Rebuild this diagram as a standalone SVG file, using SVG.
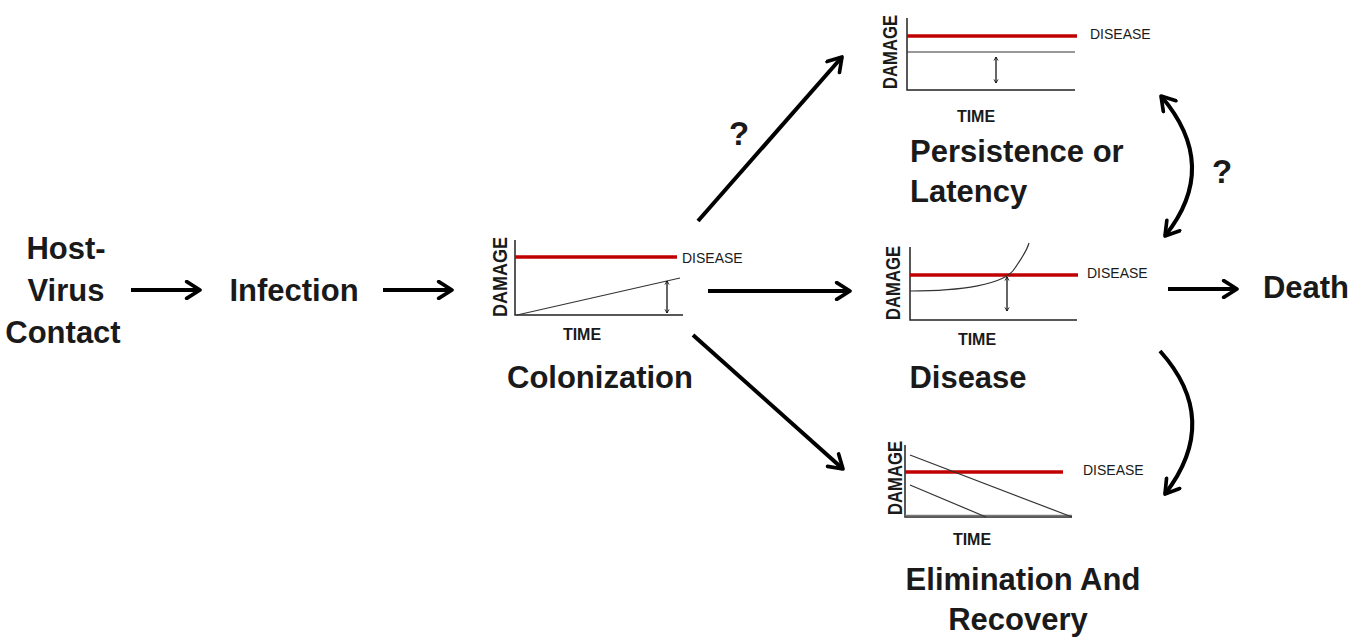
<svg xmlns="http://www.w3.org/2000/svg" width="1351" height="639" viewBox="0 0 1351 639">
<style>
.lbl{font-family:"Liberation Sans",Arial,sans-serif;font-weight:bold;font-size:31px;fill:#1a1a1a}
.q{font-family:"Liberation Sans",Arial,sans-serif;font-weight:bold;font-size:33px;fill:#1a1a1a}
.ax{font-family:"Liberation Sans",Arial,sans-serif;font-weight:bold;font-size:16px;fill:#1a1a1a}
.dm{font-family:"Liberation Sans",Arial,sans-serif;font-weight:bold;font-size:20px;fill:#1a1a1a}
.dis{font-family:"Liberation Sans",Arial,sans-serif;font-size:14px;fill:#1a1a1a}
.axis{stroke:#222;stroke-width:1.5;fill:none}
.red{stroke:#c00000;stroke-width:3.5;fill:none}
.thin{stroke:#333;stroke-width:1.2;fill:none}
.conn{stroke:#000;stroke-width:4;fill:none;marker-end:url(#ah)}
.dbl{stroke:#000;stroke-width:1.2;fill:none;marker-start:url(#sa);marker-end:url(#sa)}
</style>
<defs>
<marker id="ah" viewBox="0 0 12 12" refX="10" refY="6" markerWidth="5" markerHeight="5" orient="auto-start-reverse" markerUnits="strokeWidth">
<polyline points="2,1 10,6 2,11" fill="none" stroke="#000" stroke-width="2.2" stroke-linecap="round" stroke-linejoin="round"/>
</marker>
<marker id="sa" viewBox="0 0 10 10" refX="9" refY="5" markerWidth="6" markerHeight="6" orient="auto-start-reverse" markerUnits="userSpaceOnUse">
<polyline points="3,1.5 9,5 3,8.5" fill="none" stroke="#000" stroke-width="1.3"/>
</marker>
</defs>
<rect width="1351" height="639" fill="#fff"/>

<g id="host">
<text class="lbl" x="66" y="259" text-anchor="middle">Host-</text>
<text class="lbl" x="66" y="301" text-anchor="middle">Virus</text>
<text class="lbl" x="63" y="343" text-anchor="middle">Contact</text>
</g>
<g id="infection">
<text class="lbl" x="294" y="301" text-anchor="middle">Infection</text>
</g>
<g id="colonization">
<path class="axis" d="M515,240 V315 H683"/>
<line class="red" x1="515" y1="257" x2="677" y2="257"/>
<line class="thin" x1="517" y1="315" x2="680" y2="278"/>
<line class="dbl" x1="667" y1="281" x2="667" y2="313"/>
<text class="dis" x="682" y="263">DISEASE</text>
<text class="ax" x="582" y="340" text-anchor="middle">TIME</text>
<text class="dm" transform="translate(507,277) rotate(-90)" text-anchor="middle" textLength="80" lengthAdjust="spacingAndGlyphs">DAMAGE</text>
<text class="lbl" x="600" y="388" text-anchor="middle">Colonization</text>
</g>
<g id="persistence">
<path class="axis" d="M907,18 V90 H1075"/>
<line class="red" x1="907" y1="36" x2="1077" y2="36"/>
<line class="thin" x1="907" y1="52" x2="1075" y2="52"/>
<line class="dbl" x1="996" y1="57" x2="996" y2="83"/>
<text class="dis" x="1090" y="39">DISEASE</text>
<text class="ax" x="976" y="122" text-anchor="middle">TIME</text>
<text class="dm" transform="translate(897,52) rotate(-90)" text-anchor="middle" textLength="74" lengthAdjust="spacingAndGlyphs">DAMAGE</text>
<text class="lbl" x="910" y="162">Persistence or</text>
<text class="lbl" x="910" y="202">Latency</text>
</g>
<g id="disease">
<path class="axis" d="M910,247 V320 H1077"/>
<line class="red" x1="910" y1="275" x2="1078" y2="275"/>
<path class="thin" d="M910,291 C960,291 1005,285 1015,268 C1022,258 1027,250 1029,243"/>
<line class="dbl" x1="1007" y1="277" x2="1007" y2="311"/>
<text class="dis" x="1087" y="278">DISEASE</text>
<text class="ax" x="977" y="345" text-anchor="middle">TIME</text>
<text class="dm" transform="translate(900,283) rotate(-90)" text-anchor="middle" textLength="74" lengthAdjust="spacingAndGlyphs">DAMAGE</text>
<text class="lbl" x="968" y="388" text-anchor="middle">Disease</text>
</g>
<g id="elimination">
<path class="axis" d="M905,445 V517 H1072"/>
<line x1="905" y1="515.5" x2="1072" y2="515.5" stroke="#777" stroke-width="1.5"/>
<line class="red" x1="905" y1="472" x2="1063" y2="472"/>
<line class="thin" x1="910" y1="455" x2="1072" y2="517"/>
<line class="thin" x1="910" y1="485" x2="986" y2="517"/>
<text class="dis" x="1083" y="475">DISEASE</text>
<text class="ax" x="972" y="545" text-anchor="middle">TIME</text>
<text class="dm" transform="translate(902,478) rotate(-90)" text-anchor="middle" textLength="74" lengthAdjust="spacingAndGlyphs">DAMAGE</text>
<text class="lbl" x="1023" y="590" text-anchor="middle">Elimination And</text>
<text class="lbl" x="1018" y="630" text-anchor="middle">Recovery</text>
</g>
<g id="death">
<text class="lbl" x="1306" y="298" text-anchor="middle">Death</text>
</g>

<g id="connectors">
<line class="conn" x1="131" y1="290" x2="200" y2="290"/>
<line class="conn" x1="383" y1="290" x2="452" y2="290"/>
<line class="conn" x1="708" y1="291" x2="850" y2="291"/>
<line class="conn" x1="1168" y1="289" x2="1237" y2="289"/>
<line class="conn" x1="698" y1="221" x2="842" y2="57"/>
<line class="conn" x1="693" y1="335" x2="843" y2="469"/>
<path class="conn" d="M1165,236 Q1221,166 1161,96" style="marker-start:url(#ah)"/>
<path class="conn" d="M1160,351 Q1222,420 1165,494"/>
<text class="q" x="739" y="145" text-anchor="middle">?</text>
<text class="q" x="1222" y="183" text-anchor="middle">?</text>
</g>
</svg>
